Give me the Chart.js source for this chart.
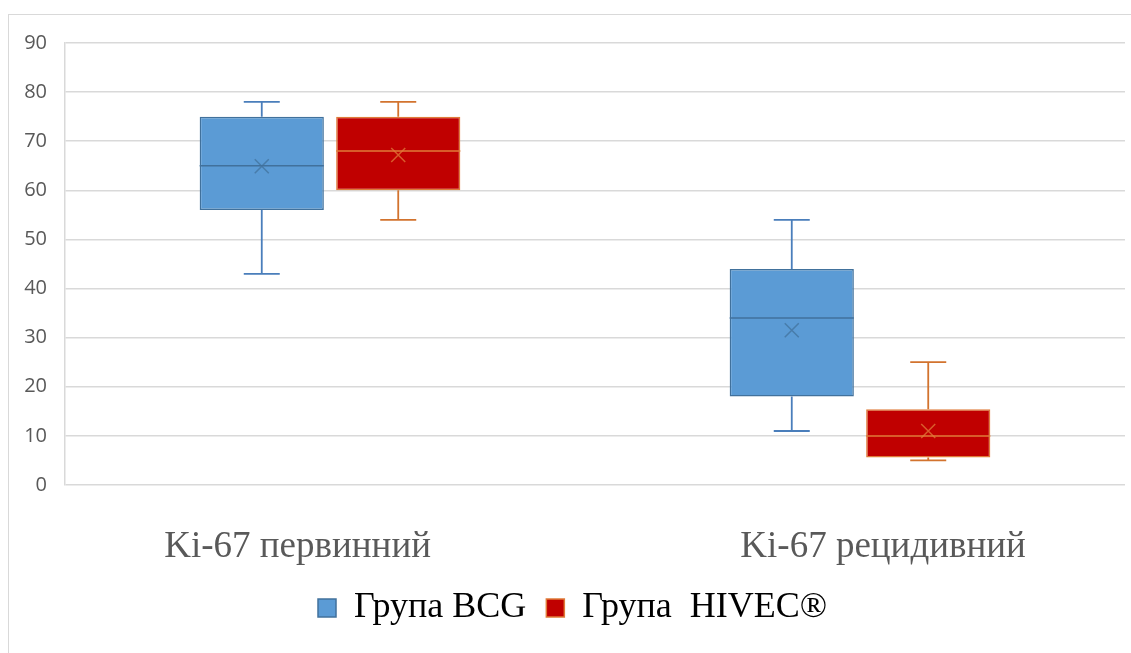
<!DOCTYPE html>
<html>
<head>
<meta charset="utf-8">
<script src="https://cdn.jsdelivr.net/npm/chart.js@4/dist/chart.umd.min.js"></script>
<style>
  html, body { margin: 0; padding: 0; background: #fff; overflow: hidden; }
  #frame { position: absolute; left: 8px; top: 14px; width: 1200px; height: 700px; border: 1px solid #d9d9d9; }
  #wrap { position: absolute; left: 0; top: 0; width: 1131px; height: 653px; }
</style>
</head>
<body>
<div id="frame"></div>
<div id="wrap"><canvas id="boxChart"></canvas></div>
<script>
// categories and box statistics
const categories = ['Ki-67 первинний', 'Ki-67 рецидивний'];
const seriesNames = ['Група BCG', 'Група  HIVEC®'];

const bcgMin = [43, 11];
const bcgQ1 = [56, 18];
const bcgMedian = [65, 34];
const bcgQ3 = [75, 44];
const bcgMax = [78, 54];
const bcgMean = [64.9, 31.5];

const hivecMin = [54, 5];
const hivecQ1 = [60, 5.6];
const hivecMedian = [68, 10];
const hivecQ3 = [75, 15.4];
const hivecMax = [78, 25];
const hivecMean = [67.2, 11];

const yMin = 0, yMax = 90, yStep = 10;

// draws whiskers, median line and mean cross on top of the floating bars
const boxPlugin = {
    id: 'boxWhiskers',
    afterDatasetsDraw(chart) {
        const ctx = chart.ctx;
        const y = chart.scales.y;
        chart.data.datasets.forEach((ds, di) => {
            const meta = chart.getDatasetMeta(di);
            const s = ds.stats;
            meta.data.forEach((bar, i) => {
                const x = bar.x;
                const half = bar.width / 2;
                const cap = 18;
                const yMinP = y.getPixelForValue(s.min[i]);
                const yQ1 = y.getPixelForValue(s.q1[i]);
                const yQ3 = y.getPixelForValue(s.q3[i]);
                const yMaxP = y.getPixelForValue(s.max[i]);
                const yMed = y.getPixelForValue(s.median[i]);
                const yMean = y.getPixelForValue(s.mean[i]);

                ctx.save();
                // whiskers
                ctx.strokeStyle = ds.whiskerColor;
                ctx.lineWidth = 1.8;
                ctx.beginPath();
                ctx.moveTo(x, yQ3); ctx.lineTo(x, yMaxP);
                ctx.moveTo(x - cap, yMaxP); ctx.lineTo(x + cap, yMaxP);
                ctx.moveTo(x, yQ1); ctx.lineTo(x, yMinP);
                ctx.moveTo(x - cap, yMinP); ctx.lineTo(x + cap, yMinP);
                ctx.stroke();

                // median
                ctx.strokeStyle = ds.medianColor;
                ctx.lineWidth = 1.5;
                ctx.beginPath();
                ctx.moveTo(x - half, yMed); ctx.lineTo(x + half, yMed);
                ctx.stroke();

                // mean marker
                const m = 7;
                ctx.globalAlpha = 0.75;
                ctx.beginPath();
                ctx.moveTo(x - m, yMean - m); ctx.lineTo(x + m, yMean + m);
                ctx.moveTo(x - m, yMean + m); ctx.lineTo(x + m, yMean - m);
                ctx.stroke();
                ctx.restore();
            });
        });
    }
};

const ctx = document.getElementById('boxChart').getContext('2d');
const boxChart = new Chart(ctx, {
    type: 'bar',
    data: {
        labels: categories,
        datasets: [
            {
                label: seriesNames[0],
                data: categories.map((c, i) => [bcgQ1[i], bcgQ3[i]]),
                backgroundColor: '#5b9bd5',
                borderColor: '#41719c',
                borderWidth: 1.5,
                borderSkipped: false,
                whiskerColor: '#4a7ebb',
                medianColor: '#41719c',
                stats: { min: bcgMin, q1: bcgQ1, median: bcgMedian, q3: bcgQ3, max: bcgMax, mean: bcgMean }
            },
            {
                label: seriesNames[1],
                data: categories.map((c, i) => [hivecQ1[i], hivecQ3[i]]),
                backgroundColor: '#c00000',
                borderColor: '#e07b39',
                borderWidth: 1.5,
                borderSkipped: false,
                whiskerColor: '#d2732e',
                medianColor: '#e07b39',
                stats: { min: hivecMin, q1: hivecQ1, median: hivecMedian, q3: hivecQ3, max: hivecMax, mean: hivecMean }
            }
        ]
    },
    options: {
        responsive: true,
        maintainAspectRatio: false,
        animation: false,
        datasets: {
            bar: { categoryPercentage: 0.515, barPercentage: 0.91 }
        },
        layout: { padding: { left: 20, right: 6, top: 43, bottom: 17 } },
        plugins: {
            tooltip: { enabled: false },
            legend: {
                position: 'bottom',
                labels: {
                    font: { family: 'Liberation Serif', size: 36 },
                    color: '#000',
                    boxWidth: 18,
                    boxHeight: 18,
                    padding: 20
                }
            }
        },
        scales: {
            x: {
                grid: { display: false, drawTicks: false },
                border: { display: false },
                ticks: {
                    font: { family: 'Liberation Serif', size: 37 },
                    color: '#595959',
                    padding: 40,
                    // the labels sit a little off their category centres in the original
                    callback: function(value, index) {
                        const label = this.getLabelForValue(value);
                        return index === 0 ? label + ' '.repeat(7) : ' '.repeat(5) + label;
                    }
                },
                afterFit(scale) { scale.height = 85; }
            },
            y: {
                min: yMin,
                max: yMax,
                grid: { color: '#d9d9d9', lineWidth: 1.5, drawTicks: false },
                border: { display: true, color: '#d9d9d9', width: 1.5 },
                ticks: {
                    stepSize: yStep,
                    font: { family: 'Open Sans', size: 20 },
                    color: '#595959',
                    padding: 18
                },
                afterFit(scale) { scale.width = 45; }
            }
        }
    },
    plugins: [boxPlugin]
});
</script>
</body>
</html>
